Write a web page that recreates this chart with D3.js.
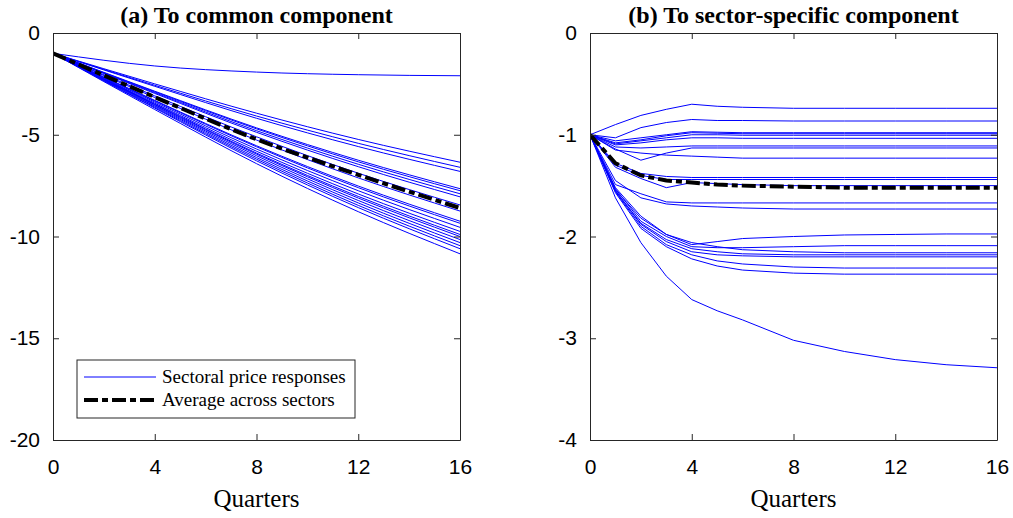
<!DOCTYPE html>
<html lang="en">
<head>
<meta charset="UTF-8">
<script src="https://cdn.jsdelivr.net/npm/d3@7/dist/d3.min.js"></script>
<title>Sectoral price responses</title>
<style>
  body { margin: 0; background: #fff; }
  .tick text { font-family: "Liberation Sans", Arial, sans-serif; }
</style>
</head>
<body>
<script>
// panel (a): quarters where values were read, sectors, average
const leftQuarters = [0, 4, 8, 12, 16]
const leftSectors = [
  [-1, -1.62, -1.92, -2.05, -2.10],
  [-1, -2.50, -3.94, -5.23, -6.35],
  [-1, -2.57, -4.08, -5.42, -6.60],
  [-1, -2.62, -4.19, -5.58, -6.80],
  [-1, -2.86, -4.66, -6.25, -7.65],
  [-1, -2.89, -4.71, -6.33, -7.75],
  [-1, -2.93, -4.80, -6.45, -7.90],
  [-1, -2.97, -4.88, -6.57, -8.05],
  [-1, -3.09, -5.10, -6.89, -8.45],
  [-1, -3.17, -5.26, -7.12, -8.75],
  [-1, -3.31, -5.54, -7.52, -9.25],
  [-1, -3.34, -5.59, -7.60, -9.35],
  [-1, -3.39, -5.70, -7.75, -9.55],
  [-1, -3.45, -5.81, -7.91, -9.75],
  [-1, -3.49, -5.90, -8.03, -9.90],
  [-1, -3.52, -5.95, -8.11, -10.00],
  [-1, -3.56, -6.03, -8.23, -10.15],
  [-1, -3.60, -6.12, -8.35, -10.30],
  [-1, -3.65, -6.20, -8.47, -10.45],
  [-1, -3.69, -6.28, -8.58, -10.60],
  [-1, -3.76, -6.42, -8.78, -10.85]
]
const leftAverage = [-1, -3.15, -5.22, -6.97, -8.60]

// panel (b)
const rightQuarters = [0, 1, 2, 3, 4, 5, 6, 8, 10, 12, 14, 16]
const rightSectors = [
  [-1, -0.90, -0.81, -0.75, -0.70, -0.72, -0.73, -0.74, -0.74, -0.74, -0.74, -0.74],
  [-1, -1.03, -0.93, -0.88, -0.85, -0.86, -0.86, -0.865, -0.865, -0.865, -0.865, -0.865],
  [-1, -1.06, -1.03, -1.00, -0.97, -0.975, -0.98, -0.98, -0.98, -0.98, -0.98, -0.98],
  [-1, -1.08, -1.05, -1.01, -0.98, -0.985, -0.99, -0.99, -0.99, -0.99, -0.99, -0.99],
  [-1, -1.09, -1.06, -1.03, -1.00, -1.00, -1.005, -1.005, -1.005, -1.005, -1.005, -1.005],
  [-1, -1.10, -1.08, -1.05, -1.03, -1.03, -1.035, -1.035, -1.035, -1.035, -1.035, -1.035],
  [-1, -1.12, -1.13, -1.12, -1.11, -1.11, -1.11, -1.11, -1.11, -1.11, -1.11, -1.11],
  [-1, -1.14, -1.25, -1.18, -1.13, -1.13, -1.13, -1.13, -1.13, -1.13, -1.13, -1.13],
  [-1, -1.15, -1.18, -1.20, -1.21, -1.22, -1.23, -1.23, -1.23, -1.23, -1.23, -1.23],
  [-1, -1.28, -1.38, -1.41, -1.42, -1.42, -1.42, -1.42, -1.42, -1.42, -1.42, -1.42],
  [-1, -1.30, -1.40, -1.44, -1.44, -1.44, -1.44, -1.44, -1.44, -1.44, -1.44, -1.44],
  [-1, -1.32, -1.43, -1.52, -1.47, -1.48, -1.49, -1.50, -1.50, -1.50, -1.50, -1.50],
  [-1, -1.49, -1.58, -1.66, -1.67, -1.67, -1.67, -1.67, -1.67, -1.67, -1.67, -1.67],
  [-1, -1.45, -1.62, -1.68, -1.70, -1.71, -1.72, -1.73, -1.73, -1.73, -1.73, -1.73],
  [-1, -1.52, -1.80, -1.98, -2.08, -2.05, -2.02, -2.00, -1.985, -1.98, -1.975, -1.975],
  [-1, -1.53, -1.85, -2.00, -2.10, -2.11, -2.11, -2.10, -2.09, -2.09, -2.09, -2.09],
  [-1, -1.54, -1.82, -1.98, -2.06, -2.10, -2.13, -2.15, -2.16, -2.16, -2.16, -2.16],
  [-1, -1.55, -1.87, -2.03, -2.12, -2.15, -2.17, -2.18, -2.18, -2.18, -2.18, -2.18],
  [-1, -1.55, -1.88, -2.05, -2.15, -2.18, -2.19, -2.20, -2.20, -2.20, -2.20, -2.20],
  [-1, -1.56, -1.90, -2.08, -2.18, -2.24, -2.27, -2.30, -2.31, -2.31, -2.31, -2.31],
  [-1, -1.57, -1.92, -2.10, -2.22, -2.29, -2.33, -2.36, -2.37, -2.37, -2.37, -2.37],
  [-1, -1.62, -2.06, -2.39, -2.62, -2.73, -2.82, -3.02, -3.13, -3.21, -3.26, -3.29]
]
const rightAverage = [-1, -1.28, -1.40, -1.45, -1.47, -1.49, -1.50, -1.51, -1.52, -1.52, -1.52, -1.52]

const xTicks = [0, 4, 8, 12, 16]
const leftYTicks = [0, -5, -10, -15, -20]
const rightYTicks = [0, -1, -2, -3, -4]
const titles = ["(a) To common component", "(b) To sector-specific component"]
const legendLabels = ["Sectoral price responses", "Average across sectors"]

const width = 1013, height = 518
const svg = d3.select("body").append("svg").attr("width", width).attr("height", height)

const panels = [
  {x0: 53, quarters: leftQuarters, sectors: leftSectors, avg: leftAverage, ydom: [-20, 0], yticks: leftYTicks, title: titles[0], curve: d3.curveMonotoneX},
  {x0: 590, quarters: rightQuarters, sectors: rightSectors, avg: rightAverage, ydom: [-4, 0], yticks: rightYTicks, title: titles[1], curve: d3.curveLinear}
]
const pw = 407, plotTop = 33, plotBottom = 440
const axisColor = "#262626"
const dashDot = "14,4,6,4"
const serif = "'Liberation Serif', 'Times New Roman', serif"

panels.forEach(p => {
  const x = d3.scaleLinear().domain([0, 16]).range([p.x0, p.x0 + pw])
  const y = d3.scaleLinear().domain(p.ydom).range([plotBottom, plotTop])
  const g = svg.append("g")

  const line = qs => d3.line().x((d, i) => x(qs[i])).y(d => y(d)).curve(p.curve)

  // clip to the axes box
  const cid = "clip" + p.x0
  svg.append("clipPath").attr("id", cid).append("rect")
    .attr("x", p.x0).attr("y", plotTop).attr("width", pw).attr("height", plotBottom - plotTop)

  const lines = g.append("g").attr("clip-path", `url(#${cid})`)
  lines.selectAll(".sector").data(p.sectors).enter().append("path")
    .attr("class", "sector")
    .attr("d", line(p.quarters))
    .attr("fill", "none").attr("stroke", "#0000ff").attr("stroke-width", 1)
  lines.append("path").datum(p.avg)
    .attr("d", line(p.quarters))
    .attr("fill", "none").attr("stroke", "#000").attr("stroke-width", 4)
    .attr("stroke-dasharray", dashDot)

  // axes with inward ticks on all four sides
  const ax = (axis, tr) => {
    const a = g.append("g").attr("transform", tr).call(axis)
    a.select(".domain").attr("stroke", axisColor)
    a.selectAll(".tick line").attr("stroke", axisColor)
    a.selectAll(".tick text").attr("fill", "#000").style("font-size", "21px")
    return a
  }
  ax(d3.axisBottom(x).tickValues(xTicks).tickSizeInner(-6).tickSizeOuter(0).tickPadding(19),
     `translate(0,${plotBottom})`)
  ax(d3.axisTop(x).tickValues(xTicks).tickSizeInner(-6).tickSizeOuter(0).tickFormat(""),
     `translate(0,${plotTop})`)
  ax(d3.axisLeft(y).tickValues(p.yticks).tickSizeInner(-6).tickSizeOuter(0).tickPadding(13)
       .tickFormat(d => String(d)),
     `translate(${p.x0},0)`)
  ax(d3.axisRight(y).tickValues(p.yticks).tickSizeInner(-6).tickSizeOuter(0).tickFormat(""),
     `translate(${p.x0 + pw},0)`)

  g.append("text").attr("x", p.x0 + pw / 2).attr("y", 23)
    .attr("text-anchor", "middle")
    .style("font-family", serif)
    .style("font-weight", "bold").style("font-size", "24px")
    .text(p.title)

  g.append("text").attr("x", p.x0 + pw / 2).attr("y", 507)
    .attr("text-anchor", "middle")
    .style("font-family", serif)
    .style("font-size", "25px")
    .text("Quarters")
})

// legend in panel (a)
const lg = svg.append("g").attr("transform", "translate(77,360)")
lg.append("rect").attr("width", 278).attr("height", 58)
  .attr("fill", "#fff").attr("stroke", axisColor).attr("stroke-width", 1)
const legendStyles = [
  {stroke: "#0000ff", w: 1, dash: null},
  {stroke: "#000", w: 4, dash: dashDot}
]
legendLabels.forEach((t, i) => {
  const yy = 17 + i * 23
  lg.append("line").attr("x1", 7).attr("x2", 79).attr("y1", yy).attr("y2", yy)
    .attr("stroke", legendStyles[i].stroke).attr("stroke-width", legendStyles[i].w)
    .attr("stroke-dasharray", legendStyles[i].dash)
  lg.append("text").attr("x", 85).attr("y", yy + 6)
    .style("font-family", serif)
    .style("font-size", "19px")
    .text(t)
})
</script>
</body>
</html>
